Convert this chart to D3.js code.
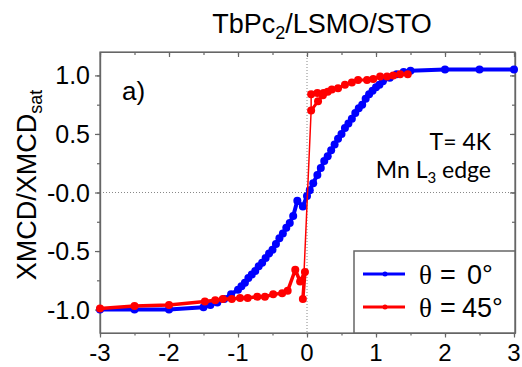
<!DOCTYPE html>
<html><head><meta charset="utf-8">
<script src="https://cdn.jsdelivr.net/npm/d3@7"></script>
<style>body{margin:0;background:#fff}svg{display:block}</style>
</head><body>
<script>
const title = "TbPc";
const yLabel = "XMCD/XMCD";
const xTicks = [-3,-2,-1,0,1,2,3];
const yTicks = [-1.0,-0.5,0.0,0.5,1.0];
const yTickLabels = ["-1.0","-0.5","-0.0","0.5","1.0"];

// theta = 0 deg (blue)
const blueX = [-3,-2.5,-2,-1.5,-1.4,-1.3,-1.2,-1.1,-1.0,-0.95,-0.9,-0.85,-0.8,-0.75,-0.7,-0.65,-0.6,-0.55,-0.5,-0.45,-0.4,-0.35,-0.3,-0.25,-0.2,-0.14,-0.06,0.0,0.04,0.09,0.15,0.2,0.25,0.3,0.35,0.4,0.45,0.5,0.55,0.6,0.65,0.7,0.75,0.8,0.85,0.9,0.95,1.0,1.05,1.1,1.2,1.3,1.4,1.5,2.0,2.5,3.0];
const blueY = [-1.0,-1.0,-1.0,-0.98,-0.96,-0.94,-0.91,-0.87,-0.83,-0.80,-0.77,-0.73,-0.70,-0.67,-0.63,-0.60,-0.56,-0.52,-0.49,-0.44,-0.39,-0.35,-0.30,-0.26,-0.20,-0.07,-0.12,-0.03,0.02,0.08,0.15,0.21,0.27,0.31,0.36,0.41,0.46,0.50,0.55,0.59,0.63,0.68,0.72,0.75,0.80,0.84,0.87,0.90,0.92,0.95,0.98,1.01,1.03,1.04,1.05,1.05,1.05];

// theta = 45 deg (red), lower branch
const redLowX = [-3,-2.5,-2,-1.48,-1.33,-1.22,-1.09,-0.97,-0.86,-0.72,-0.61,-0.49,-0.36,-0.28,-0.17,-0.1,-0.03,-0.06];
const redLowY = [-0.99,-0.97,-0.96,-0.93,-0.92,-0.91,-0.91,-0.90,-0.90,-0.89,-0.89,-0.87,-0.86,-0.84,-0.66,-0.76,-0.68,-0.91];
// jump (thin line)
const redJumpX = [-0.06,0.06,0.06];
const redJumpY = [-0.91,0.70,0.84];
// upper branches
const redUpAX = [0.06,0.16,0.23,0.3];
const redUpAY = [0.70,0.78,0.83,0.86];
const redUpBX = [0.06,0.15,0.24,0.36,0.45,0.55,0.65,0.74,0.87,0.96,1.06,1.16,1.25,1.35,1.46];
const redUpBY = [0.84,0.85,0.85,0.88,0.89,0.92,0.94,0.96,0.96,0.97,0.99,0.99,1.00,1.01,1.01];

const W=522,H=367;
const L=100,R=515,T=52,B=333;
const svg=d3.select("body").append("svg").attr("width",W).attr("height",H);
const x=d3.scaleLinear().domain([-3,3]).range([L,R-1]);
const y=d3.scaleLinear().domain([-1.2,1.2]).range([B,T]);
const axCol="#666";
const fontSans="'Liberation Sans', Arial, sans-serif";

// dotted zero lines
svg.append("line").attr("x1",x(0)).attr("x2",x(0)).attr("y1",T).attr("y2",B)
  .attr("stroke","#888").attr("stroke-width",1).attr("stroke-dasharray","1,2");
svg.append("line").attr("x1",L).attr("x2",R).attr("y1",y(0)).attr("y2",y(0))
  .attr("stroke","#888").attr("stroke-width",1).attr("stroke-dasharray","1,2");

// axes
const xMinor=d3.range(-3,3.01,0.5);
const yMinor=d3.range(-1,1.01,0.25);
function styleAxis(g){g.selectAll("path,line").attr("stroke",axCol).attr("stroke-width",1.2);g.selectAll("text").remove();}
svg.append("g").attr("transform",`translate(0,${B})`).call(d3.axisBottom(x).tickValues(xMinor).tickSize(2.5).tickSizeOuter(0)).call(styleAxis);
svg.append("g").attr("transform",`translate(0,${B})`).call(d3.axisBottom(x).tickValues(xTicks).tickSize(4.5).tickSizeOuter(0)).call(styleAxis);
svg.append("g").attr("transform",`translate(0,${T})`).call(d3.axisBottom(x).tickValues(xMinor).tickSize(3).tickSizeOuter(0)).call(styleAxis);
svg.append("g").attr("transform",`translate(0,${T})`).call(d3.axisBottom(x).tickValues(xTicks).tickSize(5).tickSizeOuter(0)).call(styleAxis);
svg.append("g").attr("transform",`translate(${L},0)`).call(d3.axisLeft(y).tickValues(yMinor).tickSize(3).tickSizeOuter(0)).call(styleAxis);
svg.append("g").attr("transform",`translate(${L},0)`).call(d3.axisLeft(y).tickValues(yTicks).tickSize(5).tickSizeOuter(0)).call(styleAxis);
svg.append("g").attr("transform",`translate(${R},0)`).call(d3.axisLeft(y).tickValues(yMinor).tickSize(3).tickSizeOuter(0)).call(styleAxis);
svg.append("g").attr("transform",`translate(${R},0)`).call(d3.axisLeft(y).tickValues(yTicks).tickSize(5).tickSizeOuter(0)).call(styleAxis);
svg.append("rect").attr("x",L).attr("y",T).attr("width",R-L).attr("height",B-T)
  .attr("fill","none").attr("stroke",axCol).attr("stroke-width",1.2);

// tick labels
svg.selectAll(".xt").data(xTicks).enter().append("text")
  .attr("x",d=>x(d)).attr("y",361).attr("text-anchor","middle")
  .attr("font-family",fontSans).attr("font-size",24).text(d=>d);
svg.selectAll(".yt").data(yTicks).enter().append("text")
  .attr("x",90).attr("y",d=>y(d)+9).attr("text-anchor","end")
  .attr("font-family",fontSans).attr("font-size",25).text((d,i)=>yTickLabels[i]);

// data
const line=d3.line().x(d=>x(d[0])).y(d=>y(d[1]));
function series(xs,ys,col,lw,r){
  const pts=xs.map((v,i)=>[v,ys[i]]);
  svg.append("path").datum(pts).attr("d",line).attr("fill","none").attr("stroke",col).attr("stroke-width",lw).attr("stroke-linejoin","round");
  if(r>0) svg.append("g").selectAll("circle").data(pts).enter().append("circle")
    .attr("cx",d=>x(d[0])).attr("cy",d=>y(d[1])).attr("r",r).attr("fill",col);
}
const blue="#0000ff",red="#ff0000";
series(blueX,blueY,blue,4,4);
series(redJumpX,redJumpY,red,1.5,0);
series(redLowX,redLowY,red,3.5,4);
series(redUpAX,redUpAY,red,3,4);
series(redUpBX,redUpBY,red,3,4);

// title
const tt=svg.append("text").attr("x",322).attr("y",33).attr("text-anchor","middle")
  .attr("font-family",fontSans).attr("font-size",27);
tt.append("tspan").text(title);
tt.append("tspan").attr("font-size",18).attr("dy",6).text("2");
tt.append("tspan").attr("dy",-6).text("/LSMO/STO");

// y label
const yl=svg.append("text").attr("transform","translate(36,185) rotate(-90)").attr("text-anchor","middle")
  .attr("font-family",fontSans).attr("font-size",27);
yl.append("tspan").text(yLabel);
yl.append("tspan").attr("font-size",18).attr("dy",6).text("sat");

// annotations
svg.append("text").attr("x",122).attr("y",100).attr("font-family",fontSans).attr("font-size",26).text("a)");
const fontCal="Lato, 'Open Sans', sans-serif";
svg.append("text").attr("x",491).attr("y",150).attr("text-anchor","end").attr("font-family",fontCal).attr("font-size",23).text("T= 4K");
const mn=svg.append("text").attr("x",491).attr("y",178).attr("text-anchor","end").attr("font-family",fontCal).attr("font-size",23);
mn.append("tspan").text("Mn L");
mn.append("tspan").attr("font-size",15).attr("dy",5).text("3");
mn.append("tspan").attr("dy",-5).text(" edge");

// legend
svg.append("rect").attr("x",354).attr("y",251).attr("width",R-354).attr("height",B-251)
  .attr("fill","#fff").attr("stroke",axCol).attr("stroke-width",1.5);
const leg=[{c:blue,v:"0°",vx:467,yy:274},{c:red,v:"45°",vx:462,yy:307}];
leg.forEach(d=>{
  svg.append("line").attr("x1",363).attr("x2",405).attr("y1",d.yy).attr("y2",d.yy).attr("stroke",d.c).attr("stroke-width",3);
  svg.append("circle").attr("cx",385).attr("cy",d.yy).attr("r",2.5).attr("fill",d.c);
  svg.append("text").attr("x",419).attr("y",d.yy+10).attr("font-family","'Liberation Serif', serif").attr("font-size",27).text("θ");
  svg.append("text").attr("x",440).attr("y",d.yy+10).attr("font-family",fontSans).attr("font-size",27).text("=");
  svg.append("text").attr("x",d.vx).attr("y",d.yy+10).attr("font-family",fontSans).attr("font-size",27).text(d.v);
});
</script>
</body></html>
